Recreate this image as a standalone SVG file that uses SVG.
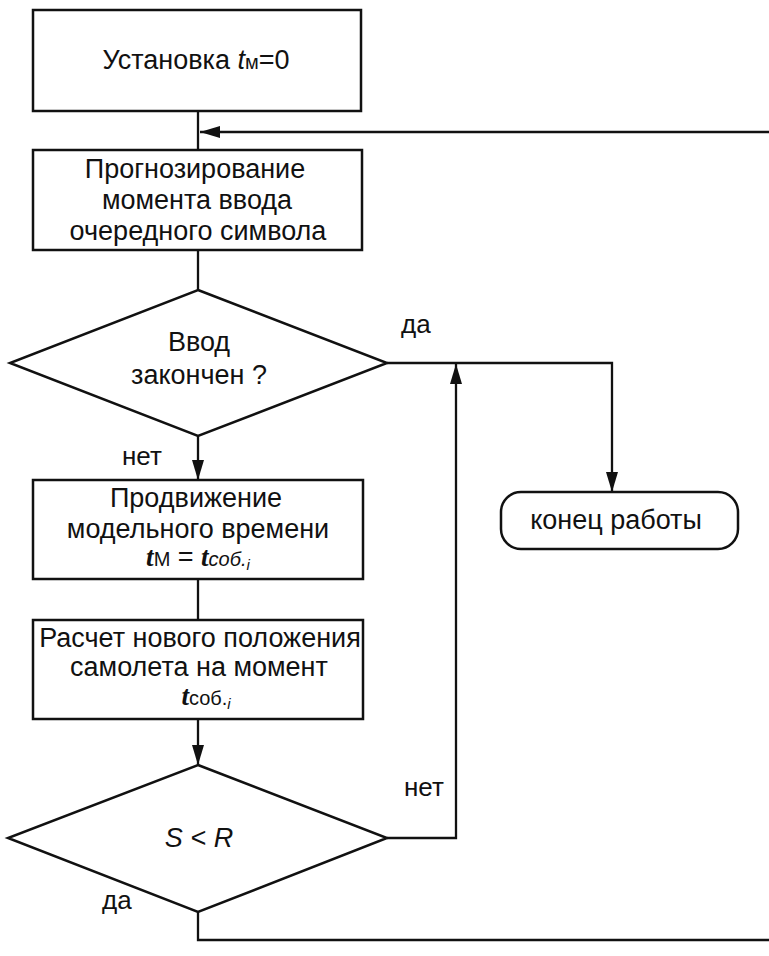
<svg xmlns="http://www.w3.org/2000/svg" width="769" height="956" viewBox="0 0 769 956">
  <style>
    .box { fill: #ffffff; stroke: #111111; stroke-width: 2.5; }
    .line { fill: none; stroke: #111111; stroke-width: 2.3; }
    .t { font-family: "Liberation Sans", Arial, sans-serif; font-size: 27px; fill: #111111; text-anchor: middle; }
    .lbl { font-family: "Liberation Sans", Arial, sans-serif; font-size: 26px; fill: #111111; }
    .it { font-style: italic; }
    .serif { font-family: "Liberation Serif", "Times New Roman", serif; font-style: italic; font-weight: bold; }
    .small { font-size: 20px; }
    .sub { font-size: 15px; }
  </style>
  <defs>
    <marker id="arrow" viewBox="0 0 20 12" refX="20" refY="6" markerWidth="20" markerHeight="12" markerUnits="userSpaceOnUse" orient="auto">
      <path d="M0,0 L20,6 L0,12 Z" fill="#111111"/>
    </marker>
  </defs>

  <rect width="769" height="956" fill="#ffffff"/>

  <!-- connectors -->
  <g id="connectors">
    <line class="line" x1="198" y1="111" x2="198" y2="150"/>
    <line class="line" x1="769" y1="132" x2="200" y2="132" marker-end="url(#arrow)"/>
    <line class="line" x1="198" y1="250" x2="198" y2="290"/>
    <line class="line" x1="198" y1="436" x2="198" y2="480" marker-end="url(#arrow)"/>
    <polyline class="line" points="387,363 612,363 612,492" marker-end="url(#arrow)"/>
    <line class="line" x1="198" y1="579" x2="198" y2="620"/>
    <line class="line" x1="198" y1="719" x2="198" y2="765" marker-end="url(#arrow)"/>
    <polyline class="line" points="387,838 456,838 456,364" marker-end="url(#arrow)"/>
    <polyline class="line" points="198,912 198,940 769,940"/>
    <text class="lbl" x="401" y="333">да</text>
    <text class="lbl" x="122" y="465">нет</text>
    <text class="lbl" x="404" y="796">нет</text>
    <text class="lbl" x="102" y="909">да</text>
  </g>

  <g id="init">
    <rect class="box" x="33" y="10" width="328" height="101"/>
    <text class="t" x="196" y="69">Установка <tspan class="it">t</tspan><tspan class="small">м</tspan>=0</text>
  </g>

  <g id="predict">
    <rect class="box" x="33" y="150" width="329" height="100"/>
    <text class="t" x="195" y="178">Прогнозирование</text>
    <text class="t" x="197" y="209">момента ввода</text>
    <text class="t" x="198" y="240">очередного символа</text>
  </g>

  <g id="input-done">
    <polygon class="box" points="198,290 387,363 198,436 10,363"/>
    <text class="t" x="199" y="351">Ввод</text>
    <text class="t" x="199" y="384">закончен ?</text>
  </g>

  <g id="end">
    <rect class="box" x="501" y="492" width="237" height="57" rx="20" ry="20"/>
    <text class="t" x="616" y="529">конец работы</text>
  </g>

  <g id="advance">
    <rect class="box" x="33" y="480" width="330" height="99"/>
    <text class="t" x="196" y="507">Продвижение</text>
    <text class="t" x="198" y="538">модельного времени</text>
    <text class="t" x="198" y="566"><tspan class="serif">t</tspan><tspan class="small">М</tspan> = <tspan class="serif">t</tspan><tspan class="small it">соб.</tspan><tspan class="sub it" dy="4">i</tspan></text>
  </g>

  <g id="position">
    <rect class="box" x="33" y="620" width="330" height="99"/>
    <text class="t" x="200" y="647">Расчет нового положения</text>
    <text class="t" x="199" y="676">самолета на момент</text>
    <text class="t" x="206" y="705"><tspan class="serif">t</tspan><tspan class="small">соб.</tspan><tspan class="sub it" dy="4">i</tspan></text>
  </g>

  <g id="distance-check">
    <polygon class="box" points="198,765 387,838 198,912 8,838"/>
    <text class="t it" x="199" y="847">S &lt; R</text>
  </g>
</svg>
